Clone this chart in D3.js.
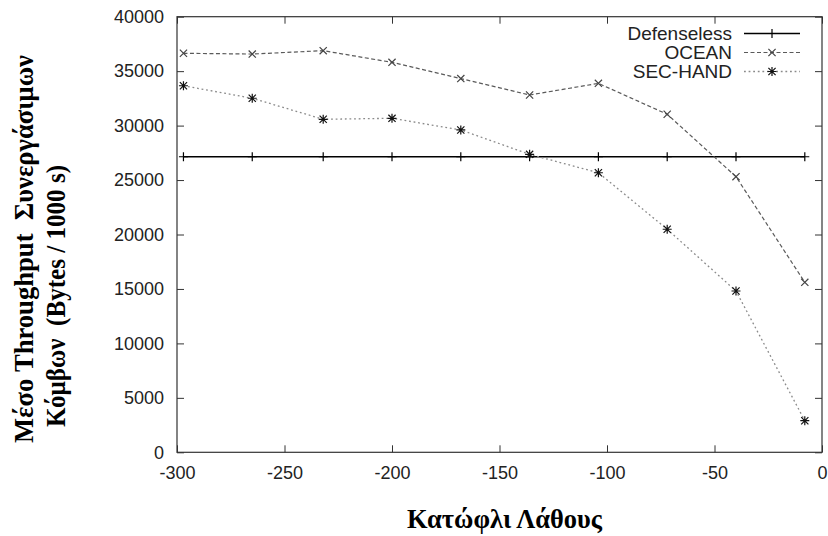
<!DOCTYPE html>
<html>
<head>
<meta charset="utf-8">
<script src="https://cdn.jsdelivr.net/npm/d3@7"></script>
<style>
  body { margin: 0; background: #fff; }
  svg { display: block; }
</style>
</head>
<body>
<svg id="chart" width="828" height="536"></svg>
<script>
// Error threshold values on the x axis
const thresholds = [-297, -265, -232, -200, -168, -136, -104, -72, -40, -8];

// Average throughput of cooperative nodes (bytes / 1000 s)
const defenseless = [27140, 27140, 27140, 27140, 27140, 27140, 27140, 27140, 27140, 27140];
const ocean       = [36640, 36570, 36880, 35810, 34320, 32810, 33880, 31040, 25310, 15610];
const secHand     = [33660, 32510, 30580, 30670, 29600, 27360, 25670, 20480, 14810, 2900];

const seriesNames = ["Defenseless", "OCEAN", "SEC-HAND"];

const xTickValues = [-300, -250, -200, -150, -100, -50, 0];
const yTickValues = [0, 5000, 10000, 15000, 20000, 25000, 30000, 35000, 40000];

const yTitleLines = ["Μέσο Throughput  Συνεργάσιμων", "Κόμβων  (Bytes / 1000 s)"];
const xTitle = "Κατώφλι Λάθους";

const svg = d3.select("#chart");

const plot = { left: 177, right: 822, top: 16.7, bottom: 452.3 };

const x = d3.scaleLinear().domain([-300, 0]).range([plot.left, plot.right]);
const y = d3.scaleLinear().domain([0, 40000]).range([plot.bottom, plot.top]);

const axisColor = "#333";
const labelColor = "#222";
const tickFont = "'Liberation Sans', Arial, sans-serif";
const titleFont = "'Liberation Serif', 'Times New Roman', serif";

// plain hyphen-minus, as in gnuplot-style labels
const plainNumber = d => String(d);

function styleAxis(g, showLabels) {
  g.select(".domain").remove();
  g.selectAll(".tick line").attr("stroke", axisColor).attr("stroke-width", 1);
  g.selectAll(".tick text")
    .attr("fill", labelColor)
    .style("font-family", tickFont)
    .style("font-size", "18px");
  if (!showLabels) g.selectAll(".tick text").remove();
}

// Bottom axis with labels, ticks pointing inward
svg.append("g")
  .attr("transform", `translate(0,${plot.bottom})`)
  .call(d3.axisBottom(x).tickValues(xTickValues).tickSize(-7).tickPadding(14)
        .tickFormat(plainNumber))
  .call(g => styleAxis(g, true));

// Top mirror ticks
svg.append("g")
  .attr("transform", `translate(0,${plot.top})`)
  .call(d3.axisTop(x).tickValues(xTickValues).tickSize(-7))
  .call(g => styleAxis(g, false));

// Left axis with labels
svg.append("g")
  .attr("transform", `translate(${plot.left},0)`)
  .call(d3.axisLeft(y).tickValues(yTickValues).tickSize(-7).tickPadding(13)
        .tickFormat(plainNumber))
  .call(g => styleAxis(g, true));

// Right mirror ticks
svg.append("g")
  .attr("transform", `translate(${plot.right},0)`)
  .call(d3.axisRight(y).tickValues(yTickValues).tickSize(-7))
  .call(g => styleAxis(g, false));

// Plot frame
svg.append("rect")
  .attr("x", plot.left).attr("y", plot.top)
  .attr("width", plot.right - plot.left).attr("height", plot.bottom - plot.top)
  .attr("fill", "none").attr("stroke", axisColor).attr("stroke-width", 1.2);

// Marker shapes
function markerPath(type, cx, cy) {
  const p = d3.path();
  const r = 4.5, d = 3.6;
  if (type === "plus" || type === "star") {
    p.moveTo(cx - r, cy); p.lineTo(cx + r, cy);
    p.moveTo(cx, cy - r); p.lineTo(cx, cy + r);
  }
  if (type === "cross" || type === "star") {
    p.moveTo(cx - d, cy - d); p.lineTo(cx + d, cy + d);
    p.moveTo(cx - d, cy + d); p.lineTo(cx + d, cy - d);
  }
  return p.toString();
}

const series = [
  { name: seriesNames[0], values: defenseless, line: "#000", dash: null, width: 1.5, marker: "plus", markerColor: "#000" },
  { name: seriesNames[1], values: ocean, line: "#5a5a5a", dash: "4,2.5", width: 1.2, marker: "cross", markerColor: "#444" },
  { name: seriesNames[2], values: secHand, line: "#8a8a8a", dash: "1.8,2.8", width: 1.3, marker: "star", markerColor: "#111" }
];

const lineGen = d3.line().x(d => x(d[0])).y(d => y(d[1]));

series.forEach(s => {
  const pts = thresholds.map((t, i) => [t, s.values[i]]);
  svg.append("path")
    .datum(pts)
    .attr("d", lineGen)
    .attr("fill", "none")
    .attr("stroke", s.line)
    .attr("stroke-width", s.width)
    .attr("stroke-dasharray", s.dash);
  svg.append("g").selectAll("path")
    .data(pts)
    .join("path")
    .attr("d", d => markerPath(s.marker, x(d[0]), y(d[1])))
    .attr("fill", "none")
    .attr("stroke", s.markerColor)
    .attr("stroke-width", 1.2);
});

// Legend
const legend = svg.append("g");
const legendTextX = 732, sampleX0 = 744, sampleX1 = 800;
series.forEach((s, i) => {
  const cy = 33.5 + i * 19;
  legend.append("text")
    .attr("x", legendTextX).attr("y", cy + 6.5)
    .attr("text-anchor", "end")
    .attr("fill", labelColor)
    .style("font-family", tickFont)
    .style("font-size", "19px")
    .text(s.name);
  legend.append("line")
    .attr("x1", sampleX0).attr("x2", sampleX1)
    .attr("y1", cy).attr("y2", cy)
    .attr("stroke", s.line)
    .attr("stroke-width", s.width)
    .attr("stroke-dasharray", s.dash);
  legend.append("path")
    .attr("d", markerPath(s.marker, (sampleX0 + sampleX1) / 2, cy))
    .attr("fill", "none")
    .attr("stroke", s.markerColor)
    .attr("stroke-width", 1.2);
});

// Axis titles (bold serif, two-line rotated y title)
const yTitle = svg.append("g");
const yTitleLayout = [
  { bx: 32.5, start: 443, len: 388 },
  { bx: 65, start: 427, len: 262 }
];
yTitleLines.forEach((t, i) => {
  yTitle.append("text")
    .attr("transform", `translate(${yTitleLayout[i].bx},${yTitleLayout[i].start}) rotate(-90)`)
    .attr("text-anchor", "start")
    .attr("textLength", yTitleLayout[i].len)
    .attr("lengthAdjust", "spacingAndGlyphs")
    .attr("fill", "#000")
    .style("font-family", titleFont)
    .style("font-weight", "bold")
    .style("font-size", "28px")
    .style("white-space", "pre")
    .text(t);
});

svg.append("text")
  .attr("x", 407).attr("y", 528)
  .attr("text-anchor", "start")
  .attr("textLength", 195)
  .attr("lengthAdjust", "spacingAndGlyphs")
  .attr("fill", "#000")
  .style("font-family", titleFont)
  .style("font-weight", "bold")
  .style("font-size", "27px")
  .text(xTitle);
</script>
</body>
</html>
